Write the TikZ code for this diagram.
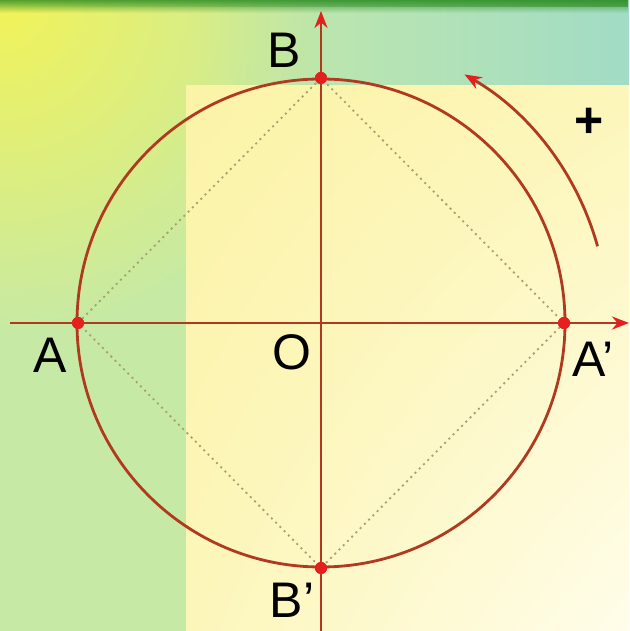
\documentclass[tikz,border=0pt]{standalone}
\usepackage{fontspec}
\setmainfont{Liberation Sans}
\usetikzlibrary{arrows.meta,shadings,fadings}
\definecolor{linered}{HTML}{B03A20}
\definecolor{dotred}{HTML}{E4201E}
\definecolor{dotgray}{HTML}{A8A070}
\definecolor{bgyellow}{HTML}{F8F450}
\definecolor{bggreen}{HTML}{C6EAA6}
\definecolor{bgcyan}{HTML}{A2DCC6}
\definecolor{topgreen}{HTML}{2E8E24}
\definecolor{paleA}{HTML}{FBF3A6}
\definecolor{paleB}{HTML}{FFFDEA}
\tikzfading[name=fadein, left color=transparent!100, right color=transparent!0]
\tikzfading[name=fadedown, top color=transparent!0, bottom color=transparent!100]
\tikzset{
  axis/.style={draw=linered, line width=2.8pt},
  circ/.style={draw=linered, line width=2.8pt},
  diag/.style={draw=dotgray, line width=1.8pt, dash pattern=on 2pt off 4pt},
  pt/.style={circle, fill=dotred, inner sep=0pt, minimum size=12pt},
  lbl/.style={font=\fontsize{50}{50}\selectfont, text=black, inner sep=0pt},
  tip/.style={-{Stealth[length=17pt,width=13pt,fill=dotred,color=dotred]}}
}
\begin{document}
\begin{tikzpicture}[x=1pt,y=1pt]
\useasboundingbox (0,0) rectangle (629,631);
% background
\fill[bggreen] (0,0) rectangle (629,631);
\begin{scope}
  \clip (0,0) rectangle (629,631);
  \shade[inner color=bgyellow, outer color=bggreen, opacity=0.9] (0,631) circle (340);
  \fill[bgcyan, path fading=fadein] (200,440) rectangle (629,631);
  \fill[topgreen, path fading=fadedown, opacity=0.8] (0,618) rectangle (629,631);
  \fill[topgreen, path fading=fadein, opacity=0.6] (0,624) rectangle (629,631);
\end{scope}
\shade[upper left=paleA, lower right=paleB, upper right=paleA!70!paleB, lower left=paleA!70!paleB] (186,0) rectangle (629,545);
% points
\coordinate (O) at (321,308);
\node[pt] (A) at (78,308) {};
\node[pt] (Ap) at (564,308) {};
\node[pt] (B) at (321,553) {};
\node[pt] (Bp) at (321,63) {};
\coordinate (xl) at (10,308);
\coordinate (xr) at (629,308);
\coordinate (yb) at (321,0);
\coordinate (yt) at (321,620);
% dotted square
\draw[diag] (A.center) -- (B.center) -- (Ap.center) -- (Bp.center) -- cycle;
% circle
\draw[circ] (O) circle (244);
% axes
\draw[axis, tip] (xl) -- (xr);
\draw[axis, tip] (yb) -- (yt);
% redraw dots on top
\node[pt] at (A) {};
\node[pt] at (Ap) {};
\node[pt] at (B) {};
\node[pt] at (Bp) {};
% rotation arrow
\draw[circ, tip] (O) ++(15.5:287) coordinate (arcS) arc (15.5:60:287) coordinate (arcE);
% labels
\node[lbl] (lB) at (284,581) {B};
\node[lbl] (lA) at (50,276) {A};
\node[lbl] (lO) at (292,279) {O};
\node[lbl] (lAp) at (593,272) {A'};
\node[lbl] (lBp) at (292,31) {B'};
\node[font=\fontsize{50}{50}\selectfont\bfseries, inner sep=0pt] (plus) at (589,508) {+};
\end{tikzpicture}
\end{document}
